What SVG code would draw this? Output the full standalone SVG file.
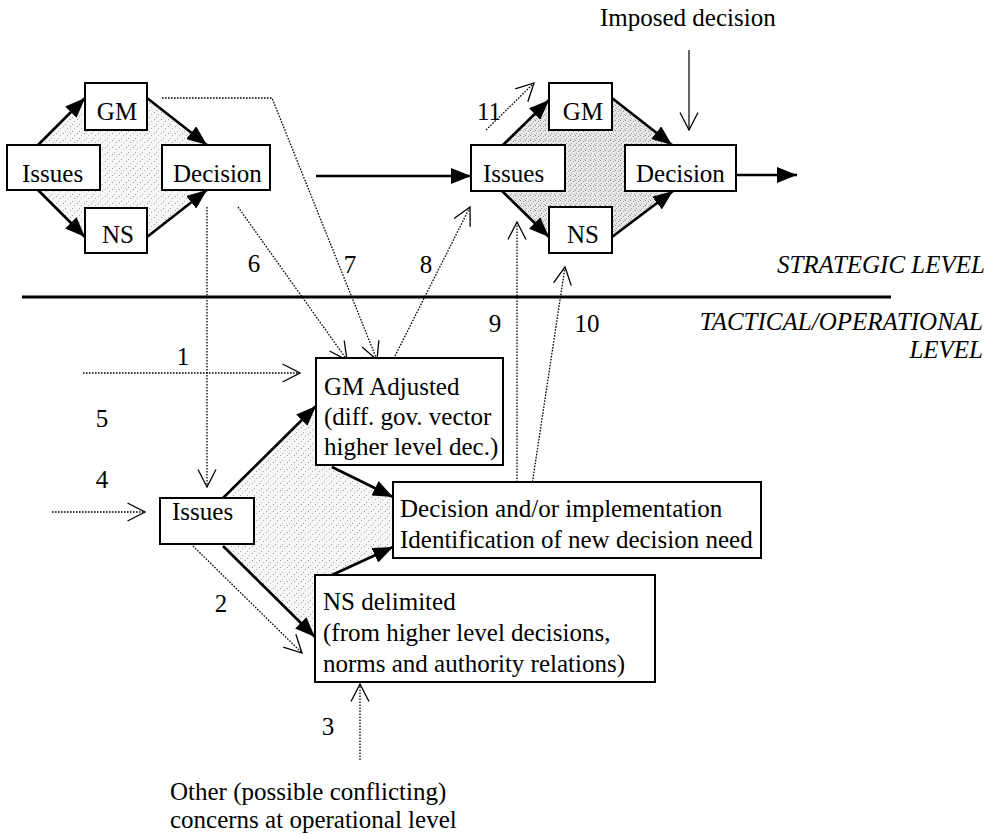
<svg xmlns="http://www.w3.org/2000/svg" width="994" height="834" viewBox="0 0 994 834">
<style>
text{font-family:"Liberation Serif","Times New Roman",serif;font-size:25px;fill:#000}
.it{font-style:italic}
.box{fill:#fff;stroke:#000;stroke-width:2}
.thick{stroke:#000;stroke-width:2.6;fill:none;marker-end:url(#fill)}
.dot{stroke:#000;stroke-width:1.3;stroke-dasharray:1.6 1.4;fill:none;marker-end:url(#open)}
.dotn{stroke:#000;stroke-width:1.3;stroke-dasharray:1.6 1.4;fill:none}
.thin{stroke:#000;stroke-width:1.2;fill:none;marker-end:url(#open)}
</style>
<defs>
<marker id="fill" viewBox="0 0 20 16" refX="20" refY="8" markerWidth="20" markerHeight="16" markerUnits="userSpaceOnUse" orient="auto">
<path d="M0,0 L20,8 L0,16 Z" fill="#000"/>
</marker>
<marker id="open" viewBox="0 0 19 20" refX="18" refY="10" markerWidth="19" markerHeight="20" markerUnits="userSpaceOnUse" orient="auto">
<path d="M0.5,1 L18,10 L0.5,19" fill="none" stroke="#000" stroke-width="1.3"/>
</marker>
<pattern id="stipL" width="7" height="7" patternUnits="userSpaceOnUse">
<rect width="7" height="7" fill="#f6f6f6"/>
<rect x="0" y="0" width="1" height="1" fill="#9a9a9a"/>
<rect x="4" y="2" width="1" height="1" fill="#b0b0b0"/>
<rect x="2" y="5" width="1" height="1" fill="#a5a5a5"/>
</pattern>
<pattern id="stipD" width="5" height="5" patternUnits="userSpaceOnUse">
<rect width="5" height="5" fill="#e8e8e8"/>
<rect x="0" y="0" width="1" height="1" fill="#8a8a8a"/>
<rect x="3" y="1" width="1" height="1" fill="#9a9a9a"/>
<rect x="1" y="3" width="1" height="1" fill="#a0a0a0"/>
<rect x="4" y="4" width="1" height="1" fill="#b5b5b5"/>
</pattern>
</defs>

<g id="shading">
<polygon points="38,143 85,98 147,98 207,143 207,192 147,237 85,237 38,192" fill="url(#stipL)"/>
<polygon points="503,143 549,100 612,98 672,143 673,192 612,237 549,237 502,192" fill="url(#stipD)"/>
<polygon points="223,498 316,406 332,467 393,497 393,547 332,575 315,637 223,546" fill="url(#stipL)"/>
</g>

<g id="connectors">
<!-- top-left cluster -->
<line class="thick" x1="38" y1="145" x2="85" y2="98"/>
<line class="thick" x1="38" y1="190" x2="85" y2="237"/>
<line class="thick" x1="147" y1="98" x2="207" y2="145"/>
<line class="thick" x1="147" y1="237" x2="207" y2="190"/>
<!-- top-right cluster -->
<line class="thick" x1="503" y1="145" x2="549" y2="100"/>
<line class="thick" x1="502" y1="191" x2="549" y2="237"/>
<line class="thick" x1="612" y1="98" x2="672" y2="145"/>
<line class="thick" x1="612" y1="237" x2="673" y2="191"/>
<line class="thick" x1="316" y1="176" x2="471" y2="176"/>
<line class="thick" x1="736" y1="175" x2="797" y2="175"/>
<line class="thin" x1="689" y1="50" x2="689" y2="130"/>
<!-- lower cluster -->
<line class="thick" x1="223" y1="498" x2="316" y2="406"/>
<line class="thick" x1="223" y1="546" x2="315" y2="637"/>
<line class="thick" x1="332" y1="467" x2="393" y2="497"/>
<line class="thick" x1="332" y1="575" x2="393" y2="547"/>
<!-- dotted influences -->
<line class="dot" x1="83" y1="373" x2="300" y2="373"/>
<line class="dot" x1="52" y1="512" x2="145" y2="512"/>
<line class="dot" x1="207" y1="207" x2="207" y2="487"/>
<line class="dot" x1="193" y1="546" x2="302" y2="653"/>
<line class="dot" x1="360" y1="760" x2="360" y2="684"/>
<line class="dot" x1="238" y1="207" x2="347" y2="360"/>
<polyline class="dot" points="162,98 272,98 377,360"/>
<line class="dot" x1="395" y1="356" x2="470" y2="207"/>
<line class="dot" x1="517" y1="485" x2="517" y2="222"/>
<line class="dot" x1="532" y1="485" x2="565" y2="267"/>
<line class="dot" x1="486" y1="130" x2="534" y2="83"/>
</g>

<g id="level-divider">
<line x1="22" y1="297" x2="891" y2="297" stroke="#000" stroke-width="3"/>
<text class="it" x="985" y="273" text-anchor="end">STRATEGIC LEVEL</text>
<text class="it" x="983" y="330" text-anchor="end">TACTICAL/OPERATIONAL</text>
<text class="it" x="983" y="358" text-anchor="end">LEVEL</text>
</g>

<g id="tl-gm"><rect class="box" x="85" y="83" width="62" height="47"/><text x="117" y="120" text-anchor="middle">GM</text></g>
<g id="tl-issues"><rect class="box" x="7" y="145" width="93" height="45"/><text x="22" y="182">Issues</text></g>
<g id="tl-decision"><rect class="box" x="162" y="145" width="108" height="45"/><text x="173" y="182">Decision</text></g>
<g id="tl-ns"><rect class="box" x="85" y="208" width="62" height="45"/><text x="118" y="243" text-anchor="middle">NS</text></g>

<g id="tr-gm"><rect class="box" x="549" y="83" width="63" height="47"/><text x="583" y="120" text-anchor="middle">GM</text></g>
<g id="tr-issues"><rect class="box" x="471" y="145" width="94" height="46"/><text x="483" y="182">Issues</text></g>
<g id="tr-decision"><rect class="box" x="625" y="145" width="111" height="46"/><text x="636" y="182">Decision</text></g>
<g id="tr-ns"><rect class="box" x="549" y="207" width="63" height="46"/><text x="583" y="243" text-anchor="middle">NS</text></g>
<g id="imposed"><text x="600" y="26">Imposed decision</text></g>

<g id="gm-adjusted"><rect class="box" x="316" y="358" width="187" height="107"/>
<text x="324" y="395">GM Adjusted</text>
<text x="324" y="425">(diff. gov. vector</text>
<text x="324" y="455">higher level dec.)</text></g>
<g id="low-issues"><rect class="box" x="160" y="498" width="94" height="46"/><text x="172" y="520">Issues</text></g>
<g id="low-decision"><rect class="box" x="393" y="482" width="368" height="76"/>
<text x="400" y="517">Decision and/or implementation</text>
<text x="400" y="548">Identification of new decision need</text></g>
<g id="ns-delimited"><rect class="box" x="315" y="575" width="340" height="107"/>
<text x="323" y="610">NS delimited</text>
<text x="323" y="641">(from higher level decisions,</text>
<text x="323" y="672">norms and authority relations)</text></g>
<g id="other"><text x="170" y="800">Other (possible conflicting)</text>
<text x="170" y="828">concerns at operational level</text></g>

<g id="labels">
<text x="183" y="365" text-anchor="middle">1</text>
<text x="221" y="612" text-anchor="middle">2</text>
<text x="328" y="735" text-anchor="middle">3</text>
<text x="102" y="488" text-anchor="middle">4</text>
<text x="102" y="427" text-anchor="middle">5</text>
<text x="254" y="272" text-anchor="middle">6</text>
<text x="350" y="273" text-anchor="middle">7</text>
<text x="426" y="273" text-anchor="middle">8</text>
<text x="495" y="332" text-anchor="middle">9</text>
<text x="587" y="332" text-anchor="middle">10</text>
<text x="489" y="120" text-anchor="middle">11</text>
</g>
</svg>
